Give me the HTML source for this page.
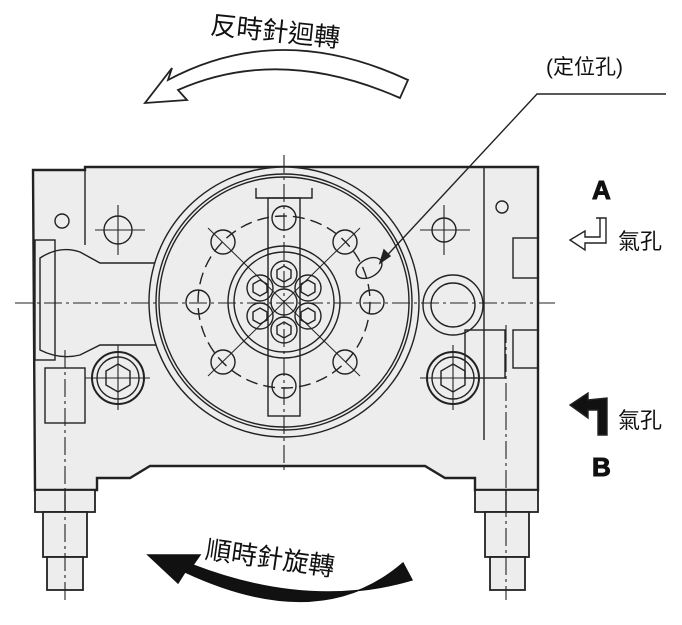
<!DOCTYPE html>
<html><head><meta charset="utf-8"><style>
html,body{margin:0;padding:0;background:#fff;}
svg{display:block}
text{font-family:"Liberation Sans","Noto Sans CJK TC",sans-serif;fill:#111}
</style></head><body>
<svg width="682" height="625" viewBox="0 0 682 625" xmlns="http://www.w3.org/2000/svg">
<g stroke="#222" fill="none" stroke-width="1.4">
<!-- body -->
<path d="M33,170 L85,170 L85,167 L538,167 L538,490 L475,490 L475,478 L445,478 L425,466 L150,466 L130,478 L97,478 L97,490 L35,490 Z" fill="#ededed" stroke-width="2.4"/>
<line x1="85" y1="170" x2="85" y2="245"/>
<line x1="484" y1="167" x2="484" y2="440"/>
<!-- nuts & studs -->
<rect x="35" y="490" width="60" height="22" fill="#ededed" stroke-width="1.8"/>
<line x1="65" y1="490" x2="65" y2="512"/>
<rect x="43" y="512" width="44" height="45" fill="#ededed" stroke-width="1.8"/>
<rect x="47" y="557" width="36" height="33" fill="#ededed" stroke-width="1.8"/>
<rect x="475" y="490" width="63" height="22" fill="#ededed" stroke-width="1.8"/>
<line x1="506" y1="490" x2="506" y2="512"/>
<rect x="485" y="512" width="44" height="45" fill="#ededed" stroke-width="1.8"/>
<rect x="490" y="557" width="35" height="33" fill="#ededed" stroke-width="1.8"/>
<!-- left boss -->
<path d="M40,258 Q60,245 80,252 L100,263 L178,263 L178,345 L100,345 L80,355 Q60,360 40,350 Z" fill="#ededed"/>
<rect x="35" y="240" width="20" height="120"/>
<rect x="45" y="368" width="40" height="55"/>
<rect x="465" y="330" width="40" height="48"/>
<rect x="513" y="238" width="25" height="40"/>
<rect x="513" y="330" width="25" height="38"/>
<!-- big circle -->
<circle cx="284" cy="302" r="135" fill="#ededed"/>
<circle cx="284" cy="302" r="128"/>
<circle cx="284" cy="302" r="125"/>
<circle cx="284" cy="302" r="86" stroke-dasharray="12,6"/>
<circle cx="284" cy="302" r="56"/>
<circle cx="284" cy="302" r="50"/>
<rect x="268" y="198" width="32" height="218"/>
<path d="M256,188 L256,198 L312,198 L312,188"/>
<!-- centre hex holes -->
<g>
<circle cx="284" cy="302" r="13"/>
<circle cx="284" cy="274" r="13"/><circle cx="284" cy="330" r="13"/>
<circle cx="260" cy="288" r="13"/><circle cx="308" cy="288" r="13"/>
<circle cx="260" cy="316" r="13"/><circle cx="308" cy="316" r="13"/>
<polygon points="284,266 291,270 291,278 284,282 277,278 277,270"/>
<polygon points="284,322 291,326 291,334 284,338 277,334 277,326"/>
<polygon points="260,280 267,284 267,292 260,296 253,292 253,284"/>
<polygon points="308,280 315,284 315,292 308,296 301,292 301,284"/>
<polygon points="260,308 267,312 267,320 260,324 253,320 253,312"/>
<polygon points="308,308 315,312 315,320 308,324 301,320 301,312"/>
</g>
<!-- bolt circle holes -->
<circle cx="284" cy="218" r="12"/><circle cx="284" cy="386" r="12"/>
<circle cx="198" cy="302" r="12"/><circle cx="372" cy="302" r="12"/>
<circle cx="223" cy="242" r="12"/><circle cx="345" cy="242" r="12"/>
<circle cx="223" cy="362" r="12"/><circle cx="345" cy="362" r="12"/>
<line x1="208" y1="228" x2="360" y2="376" stroke-width="1"/><line x1="360" y1="228" x2="208" y2="376" stroke-width="1"/>
<ellipse cx="369" cy="268" rx="14" ry="9" transform="rotate(-30 369 268)"/>
<!-- side holes -->
<circle cx="118" cy="230" r="14"/><circle cx="62" cy="221" r="7"/>
<circle cx="444" cy="230" r="12"/><circle cx="502" cy="207" r="6"/>
<circle cx="453" cy="305" r="30"/><circle cx="453" cy="305" r="22"/>
<circle cx="118" cy="378" r="26" stroke-width="2"/><circle cx="118" cy="378" r="21"/>
<polygon points="118,364 130,371 130,385 118,392 106,385 106,371"/>
<circle cx="453" cy="378" r="26" stroke-width="2"/><circle cx="453" cy="378" r="21"/>
<polygon points="453,364 465,371 465,385 453,392 441,385 441,371"/>
<!-- centre lines -->
<g stroke-width="1.1">
<line x1="15" y1="303" x2="555" y2="303" stroke-dasharray="18,4,3,4"/>
<line x1="284" y1="155" x2="284" y2="470" stroke-dasharray="18,4,3,4"/>
<line x1="65" y1="350" x2="65" y2="600" stroke-dasharray="18,4,3,4"/>
<line x1="506" y1="325" x2="506" y2="600" stroke-dasharray="18,4,3,4"/>
<line x1="118" y1="205" x2="118" y2="255"/><line x1="95" y1="230" x2="145" y2="230"/>
<line x1="444" y1="205" x2="444" y2="255"/><line x1="420" y1="230" x2="470" y2="230"/>
<line x1="453" y1="345" x2="453" y2="410"/><line x1="420" y1="378" x2="490" y2="378"/>
<line x1="118" y1="345" x2="118" y2="410"/><line x1="85" y1="378" x2="150" y2="378"/>
</g>
<!-- leader -->
<polyline points="666,94 537,94 380,263" stroke-width="1.4"/>
<polygon points="380,263 384,250 390,256" fill="#222"/>
<!-- top arrow -->
<path d="M408,80 Q280,20 168,80 L172,68 L145,103 L187,100 L178,90 Q280,45 400,98 Z" fill="#fff" stroke-width="1.8"/>
<!-- bottom arrow -->
<path d="M403,563 Q320,635 185,572 L178,583 L148,555 L200,555 L193,565 Q310,610 412,580 Z" fill="#111" stroke="#111"/>
<!-- right icons -->
<path d="M596,218 L606,218 L606,243 L585,243 L585,250 L570,240 L585,231 L585,237 L600,237 L600,218" fill="#fff" stroke-width="1.4"/>
<path d="M607,398 L607,435 L598,435 L598,410 L588,410 L588,418 L570,405 L588,393 L588,400 Z" fill="#111"/>
</g>
<text x="210" y="42" font-size="26" transform="rotate(6 290 35)">反時針迴轉</text>
<text x="546" y="74" font-size="21">(定位孔)</text>
<text x="592" y="199" font-size="26" font-weight="bold" stroke="#111" stroke-width="1">A</text>
<text x="618" y="249" font-size="22">氣孔</text>
<text x="618" y="428" font-size="22">氣孔</text>
<text x="592" y="476" font-size="26" font-weight="bold" stroke="#111" stroke-width="1">B</text>
<text x="205" y="570" font-size="26" transform="rotate(8 290 560)">順時針旋轉</text>
</svg>
</body></html>
